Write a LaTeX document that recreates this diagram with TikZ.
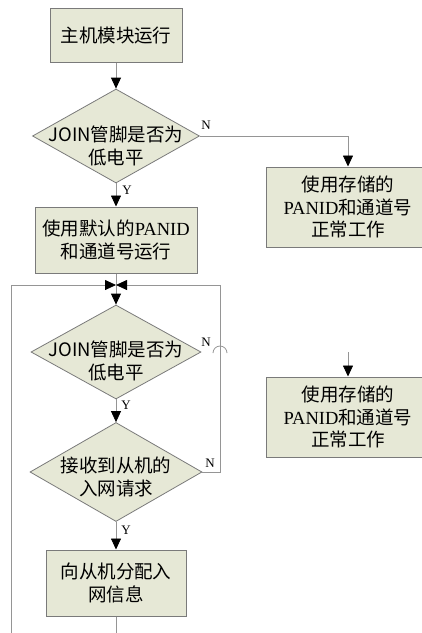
\documentclass[tikz,border=0pt]{standalone}
\usepackage{fontspec}
\setmainfont{Liberation Serif}
\newfontfamily\cjk{Noto Sans CJK SC}
\usetikzlibrary{arrows.meta,shapes.geometric,calc}
\definecolor{boxfill}{HTML}{E6E8D6}
\definecolor{boxline}{HTML}{7A7A7A}
\definecolor{conn}{HTML}{959595}
\begin{document}
\begin{tikzpicture}[x=1pt,y=-1pt,
  box/.style={draw=boxline, fill=boxfill, line width=1pt, inner sep=0pt,
    font=\cjk\fontsize{18.5}{22.5}\selectfont, align=center},
  dia/.style={diamond, draw=boxline, fill=boxfill, line width=0.8pt, inner sep=0pt},
  dtext/.style={font=\cjk\fontsize{18.5}{22.5}\selectfont, align=center, inner sep=0pt},
  lbl/.style={font=\fontsize{13}{13}\selectfont, inner sep=0pt},
  line/.style={draw=conn, line width=0.8pt},
  arr/.style={-{Triangle[width=10pt,length=11pt,color=black]}}
]
\useasboundingbox (0,0) rectangle (422,633);
\clip (0,0) rectangle (422,633);
\fill[white] (0,0) rectangle (422,633);

% nodes
\node[box, minimum width=132pt, minimum height=54pt] (b1) at (116,35) {主机模块运行};
\node[dia, minimum width=167pt, minimum height=94pt] (d1) at (116,136) {};
\node[dtext] (t1) at ($(d1)+(0,10)$) {JOIN管脚是否为\\低电平};
\node[box, minimum width=164pt, minimum height=80pt] (b2) at (348,207) {使用存储的\\{\rmfamily PANID}和通道号\\正常工作};
\node[box, minimum width=162pt, minimum height=66pt] (b3) at (116,240) {使用默认的{\rmfamily PANID}\\和通道号运行};
\node[dia, minimum width=170pt, minimum height=94pt] (d2) at (116,352) {};
\node[dtext] (t2) at ($(d2)+(0,9)$) {JOIN管脚是否为\\低电平};
\node[dia, minimum width=172pt, minimum height=99pt] (d3) at (116,472) {};
\node[dtext] (t3) at ($(d3)+(0,5)$) {接收到从机的\\入网请求};
\node[box, minimum width=140pt, minimum height=66pt] (b4) at (116,583) {向从机分配入\\网信息};
\node[box, minimum width=164pt, minimum height=80pt] (b5) at (348,417) {使用存储的\\{\rmfamily PANID}和通道号\\正常工作};

% coordinates
\coordinate (mid) at (116,285);
\coordinate (rc) at (220,285);
\coordinate (lc) at (11,285);
\coordinate (bot) at (116,650);
\coordinate (s5) at (348,352);

% connectors
\draw[line,arr] (b1.south) -- (d1.north);
\draw[line,arr] (d1.east) -| (b2.north);
\draw[line,arr] (d1.south) -- (b3.north);
\draw[line] (b3.south) -- (mid);
\draw[line,arr] (mid) -- (d2.north);
\draw[line,arr] (d2.south) -- (d3.north);
\draw[line,arr] (d3.south) -- (b4.north);
\draw[line,arr] (d3.east) -| (rc) -- (mid);
\draw[line,arr] (b4.south) -- (bot) -| (lc) -- (mid);
\draw[line,arr] (s5) -- (b5.north);
\draw[line] (213,353) arc[start angle=180,end angle=360,radius=7];

% labels
\node[lbl] (n1) at (206,125) {N};
\node[lbl] (y1) at (127,190) {Y};
\node[lbl] (n2) at (206,342) {N};
\node[lbl] (y2) at (126,405) {Y};
\node[lbl] (n3) at (210,463) {N};
\node[lbl] (y3) at (126,530) {Y};
\end{tikzpicture}
\end{document}
